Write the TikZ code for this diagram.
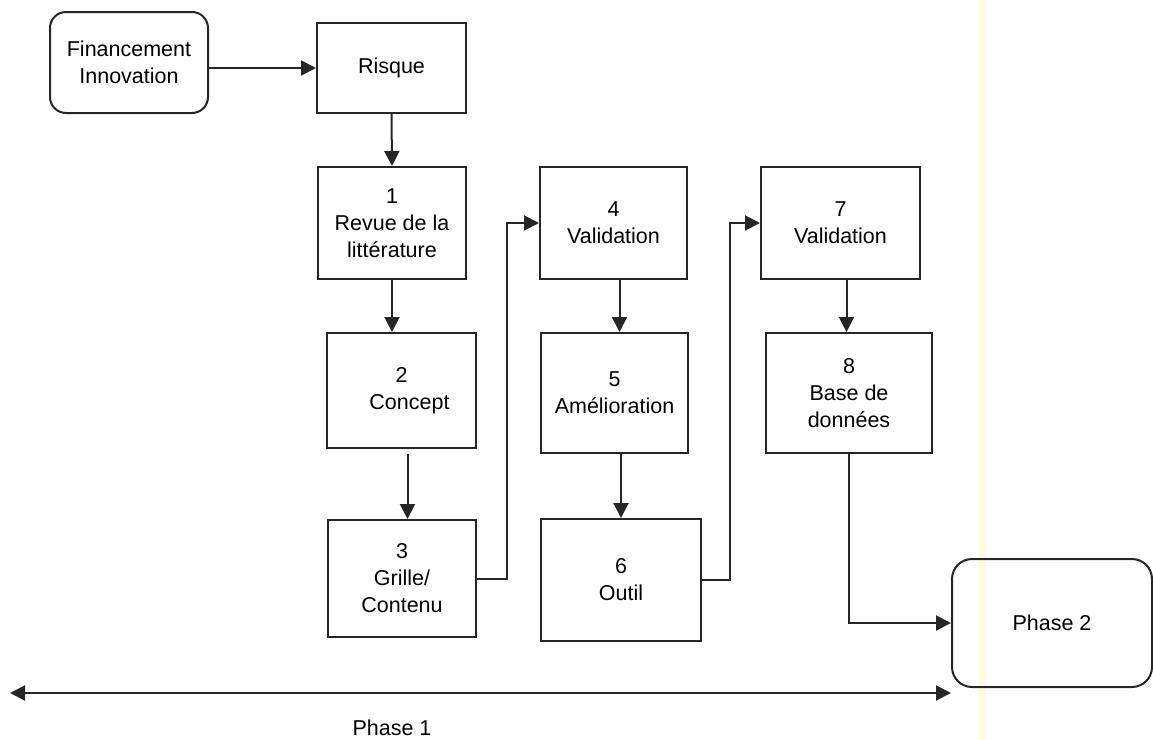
\documentclass[tikz,border=0pt]{standalone}
\usepackage{fontspec}
\setmainfont{Liberation Sans}
\usetikzlibrary{arrows.meta}

\begin{document}
\begin{tikzpicture}[x=0.5pt,y=-0.5pt,
  box/.style={rectangle,draw=black!85,line width=1pt,align=center,inner sep=0pt,
    font=\fontsize{10.75pt}{13.5pt}\selectfont},
  rbox/.style={box,rounded corners=8pt},
  flow/.style={draw=black!85,line width=1pt,-{Triangle[length=7.5pt,width=7.5pt]}},
  both/.style={flow,{Triangle[length=7.5pt,width=7.5pt]}-{Triangle[length=7.5pt,width=7.5pt]}}]
\useasboundingbox (0,0) rectangle (1153,740);
\fill[yellow!12] (979,0) rectangle (986,740);
\node[rbox,minimum width=79pt,minimum height=50.5pt] (fin) at (129,62.5) {Financement\\Innovation};
\node[box,minimum width=74.5pt,minimum height=45pt] (risque) at (391.5,68) {Risque};
\node[box,minimum width=74pt,minimum height=56pt] (n1) at (392,223) {1\\Revue de la\\littérature};
\node[box,minimum width=74.5pt,minimum height=57.5pt] (n2) at (401.5,390.5) {2\\\hspace*{8pt}Concept};
\node[box,minimum width=74pt,minimum height=58.5pt] (n3) at (402,578.5) {3\\Grille/\\Contenu};
\node[box,minimum width=73.5pt,minimum height=56pt] (n4) at (613.5,223) {4\\Validation};
\node[box,minimum width=73.5pt,minimum height=60pt] (n5) at (614.5,393) {5\\Amélioration};
\node[box,minimum width=80pt,minimum height=61pt] (n6) at (621,580) {6\\Outil};
\node[box,minimum width=79.5pt,minimum height=56pt] (n7) at (840.5,223) {7\\Validation};
\node[box,minimum width=83pt,minimum height=60pt] (n8) at (849,393) {8\\Base de\\données};
\node[rbox,rounded corners=10pt,minimum width=100pt,minimum height=64pt] (p2) at (1052,623) {Phase 2};
\coordinate (k1) at (507,0);
\coordinate (k2) at (730,0);
\coordinate (p1l) at (10,693);
\node[box,draw=none] (p1) at (392,728) {Phase 1};
\path
  (fin.east |- risque.west) edge [flow] (risque.west)
  (risque.south) edge [flow] (n1.north)
  (n1.south) edge [flow] (n1.south |- n2.north)
  ([xshift=3pt,yshift=-2.5pt]n2.south) edge [flow] ([xshift=3pt]n2.south |- n3.north)
  ([xshift=3pt]n4.south) edge [flow] ([xshift=3pt]n4.south |- n5.north)
  (n5.south -| n6) edge [flow] (n6.north)
  ([xshift=3pt]n7.south) edge [flow] ([xshift=3pt]n7.south |- n8.north)
  (p1l) edge [both] (p1l -| p2.west)
;
\draw[flow] (n3.east) -- (n3.east -| k1) |- (n4.west);
\draw[flow] (n6.east) -- (n6.east -| k2) |- (n7.west);
\draw[flow] (n8.south) |- (p2.west);
\end{tikzpicture}
\end{document}
